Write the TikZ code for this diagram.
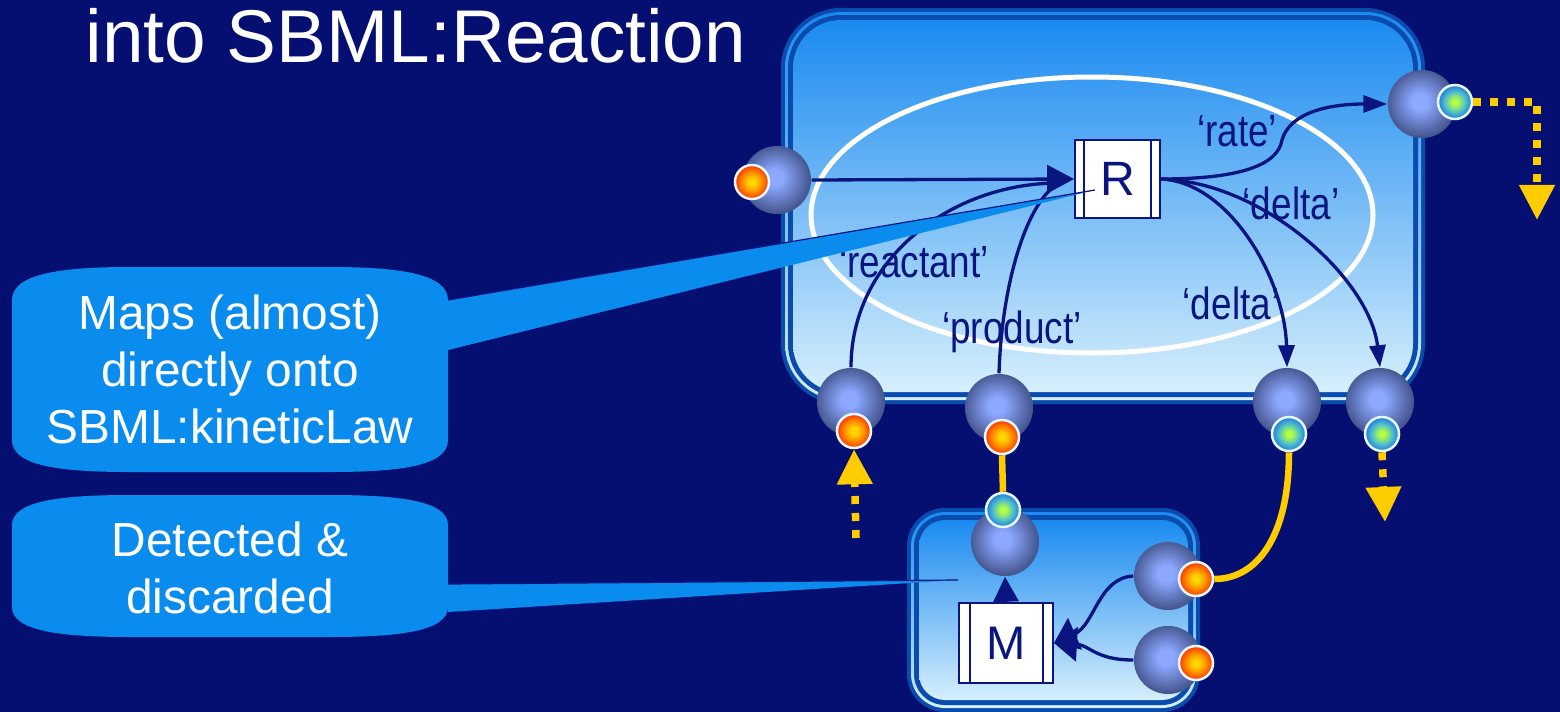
\documentclass[tikz,border=0pt]{standalone}
\usepackage{fontspec}
\setmainfont{Liberation Sans}
\usetikzlibrary{arrows.meta,calc}

\definecolor{bg}{HTML}{050F72}
\definecolor{navy}{HTML}{0A1580}
\definecolor{frame}{HTML}{0A4CAE}
\definecolor{boxtop}{HTML}{1A8AF0}
\definecolor{boxmid}{HTML}{8EC2F6}
\definecolor{boxbot}{HTML}{D6EFFC}
\definecolor{callout}{HTML}{0A8BEE}
\definecolor{gold}{HTML}{FFCC00}
\definecolor{sphin}{HTML}{8CA8FF}
\definecolor{sphout}{HTML}{465790}
\definecolor{oin}{HTML}{FFD400}
\definecolor{omid}{HTML}{FF8A00}
\definecolor{oout}{HTML}{FF3300}
\definecolor{gin}{HTML}{B4FF40}
\definecolor{gmid}{HTML}{50C0C8}
\definecolor{gout}{HTML}{1E78E0}

\pgfdeclareradialshading{sphereshade}{\pgfpoint{-2bp}{2bp}}{color(0bp)=(sphin); color(6bp)=(sphin); color(25bp)=(sphout); color(50bp)=(sphout)}
\pgfdeclareradialshading{orangeshade}{\pgfpointorigin}{color(0bp)=(oin); color(5bp)=(oin); color(15bp)=(omid); color(25bp)=(oout); color(50bp)=(oout)}
\pgfdeclareradialshading{greenshade}{\pgfpointorigin}{color(0bp)=(gin); color(4bp)=(gin); color(15bp)=(gmid); color(25bp)=(gout); color(50bp)=(gout)}

\newcommand\condensed[1]{\scalebox{0.82}[1]{#1}}

\tikzset{
  sphere/.style={circle, minimum size=0.68cm, inner sep=0pt, shading=sphereshade},
  odot/.style={circle, minimum size=0.34cm, inner sep=0pt, draw=white!90!cyan, line width=0.025cm, shading=orangeshade},
  gdot/.style={circle, minimum size=0.34cm, inner sep=0pt, draw=white!90!cyan, line width=0.025cm, shading=greenshade},
  procbox/.style={draw=navy, line width=0.018cm, fill=white, inner sep=0pt, text=navy},
  link/.style={draw=navy, line width=0.033cm},
  ylink/.style={draw=gold, line width=0.065cm},
  ydots/.style={draw=gold, line width=0.075cm, dash pattern=on 0.08cm off 0.09cm},
  lab/.style={text=navy, font=\fontsize{12.8}{15}\selectfont, inner sep=0pt, anchor=base},
  calltext/.style={text=white, align=center, anchor=base, inner sep=0pt, font=\fontsize{13.6}{16.1}\selectfont},
  porttip/.style={-{Triangle[length=0.22cm,width=0.16cm]}},
  ytip/.style={-{Triangle[length=0.35cm,width=0.34cm]}},
  boxshade/.style={top color=boxtop, middle color=boxmid, bottom color=boxbot},
}

\begin{document}
\begin{tikzpicture}[x=0.01cm,y=-0.01cm]
\useasboundingbox (0,0) rectangle (1560,712);
\fill[bg] (0,0) rectangle (1560,712);

% heading
\node[anchor=base west, text=white, font=\fontsize{21.25}{25}\selectfont, inner sep=0pt] (title) at (85,62) {into SBML:Reaction};

% callout bodies
\fill[callout] (12,300) .. controls (12,274) and (60,267) .. (130,267) -- (330,267)
  .. controls (400,267) and (448,274) .. (448,300) -- (448,440)
  .. controls (448,466) and (400,472) .. (330,472) -- (130,472)
  .. controls (60,472) and (12,466) .. (12,440) -- cycle;
\fill[callout] (12,525) .. controls (12,501) and (60,495) .. (130,495) -- (330,495)
  .. controls (400,495) and (448,501) .. (448,525) -- (448,607)
  .. controls (448,631) and (400,637) .. (330,637) -- (130,637)
  .. controls (60,637) and (12,631) .. (12,607) -- cycle;
% base anchor sits on the last line of a multi-line node
\node[calltext] (c1) at (230,443) {Maps (almost)\\directly onto\\SBML:kineticLaw};
\node[calltext] (c2) at (230,613) {Detected \&\\discarded};

% reaction compartment: dark frame, light rim, dark band, gradient body
\fill[frame, rounded corners=0.6cm] (781,8) rectangle (1425,404);
\shade[boxshade, rounded corners=0.56cm] (785,12) rectangle (1421,400);
\fill[frame, rounded corners=0.53cm] (788,15) rectangle (1418,397);
\shade[boxshade, rounded corners=0.48cm] (793,20) rectangle (1413,392);

% module compartment
\fill[frame, rounded corners=0.38cm] (907,508) rectangle (1200,712);
\shade[boxshade, rounded corners=0.34cm] (911,512) rectangle (1196,708);
\fill[frame, rounded corners=0.31cm] (914,515) rectangle (1193,705);
\shade[boxshade, rounded corners=0.26cm] (919,520) rectangle (1188,700);

% kinetic law boundary
\draw[white, line width=0.05cm] (1092,215) ellipse [x radius=281, y radius=138];

% process boxes
\node[procbox, minimum width=0.85cm, minimum height=0.78cm, font=\fontsize{13.7}{16}\selectfont] (R) at (1117.5,179) {R};
\draw[navy, line width=0.015cm] ([xshift=0.1cm]R.north west) -- ([xshift=0.1cm]R.south west);
\draw[navy, line width=0.015cm] ([xshift=-0.1cm]R.north east) -- ([xshift=-0.1cm]R.south east);
\node[procbox, minimum width=0.94cm, minimum height=0.80cm, font=\fontsize{13.4}{16}\selectfont] (M) at (1006,643) {M};
\draw[navy, line width=0.015cm] ([xshift=0.12cm]M.north west) -- ([xshift=0.12cm]M.south west);
\draw[navy, line width=0.015cm] ([xshift=-0.11cm]M.north east) -- ([xshift=-0.11cm]M.south east);

% ports
\node[sphere] (pL) at (777,180) {};
\node[sphere] (pRate) at (1422,104) {};
\node[sphere] (pB1) at (851,402) {};
\node[sphere] (pB2) at (999,408) {};
\node[sphere] (pB3) at (1287,402) {};
\node[sphere] (pB4) at (1380,402) {};
\node[sphere] (pM) at (1005,542) {};
\node[sphere] (pM1) at (1168,576) {};
\node[sphere] (pM2) at (1168,660) {};

\node[odot] (dL) at (752,182) {};
\node[gdot] (dRate) at (1455,102) {};
\node[odot] (dB1) at (854,431) {};
\node[odot] (dB2) at (1002,437) {};
\node[gdot] (dB3) at (1289,434) {};
\node[gdot] (dB4) at (1382,434) {};
\node[gdot] (dM) at (1003,510) {};
\node[odot] (dM1) at (1196,579) {};
\node[odot] (dM2) at (1196,663) {};

% links inside the reaction
\coordinate (Rin) at ($(R.west)+(-15,4)$);
\draw[link, -{Triangle[length=0.27cm,width=0.28cm]}] (pL.east) -- (R.west);
\draw[link] (pB1.north) .. controls (851,260) and (950,183) .. (Rin);
\draw[link] (pB2.north) .. controls (1002,280) and (1028,200) .. (Rin);
\coordinate (rateBend) at (1282,140);
\draw[link, -{Triangle[length=0.24cm,width=0.17cm]}] (R.east) .. controls (1240,179) and (1278,165) .. (rateBend)
  .. controls (1290,112) and (1330,104) .. (pRate.west);
\draw[link, porttip] (R.east) .. controls (1230,182) and (1285,280) .. (pB3.north);
\draw[link, porttip] (R.east) .. controls (1265,182) and (1370,280) .. (pB4.north);

\node[lab] (lrate) at (1237,146) {\condensed{‘rate’}};
\node[lab] (ldelta1) at (1291,219) {\condensed{‘delta’}};
\node[lab] (ldelta2) at (1231,319) {\condensed{‘delta’}};
\node[lab] (lreact) at (914,277) {\condensed{‘reactant’}};
\node[lab] (lprod) at (1012,343) {\condensed{‘product’}};

% links inside the module
\draw[link, -{Triangle[length=0.25cm,width=0.25cm]}] (M.north) -- (pM.south);
\draw[link, -{Triangle[length=0.23cm,width=0.34cm]}] (pM1.west) .. controls (1098,578) and (1095,625) .. (M.east);
\draw[link, -{Triangle[length=0.23cm,width=0.34cm]}] (pM2.west) .. controls (1095,660) and (1090,645) .. (M.east);

% wiring between the blocks
\draw[ylink] (dB2.south) -- (dM.north);
\draw[ylink] (dB3.south) .. controls (1289,535) and (1258,579) .. (dM1.east);
\coordinate (rateOut) at (1537,220);
\coordinate (speciesIn) at (856,538);
\coordinate (deltaOut) at (1385,522);
\draw[ydots, ytip] (dRate.east) -| (rateOut);
\draw[ydots, ytip] (speciesIn) -- (dB1.south);
\draw[ydots, ytip] (dB4.south) -- (deltaOut);

% callout pointers
\fill[callout] (448,300) -- (1095,190) -- (448,350) -- cycle;
\draw[navy, line width=0.012cm] (448,300) -- (1095,190);
\fill[callout] (448,584) -- (958,580) -- (448,612) -- cycle;
\draw[navy, line width=0.012cm] (448,584) -- (958,580);
\end{tikzpicture}
\end{document}
